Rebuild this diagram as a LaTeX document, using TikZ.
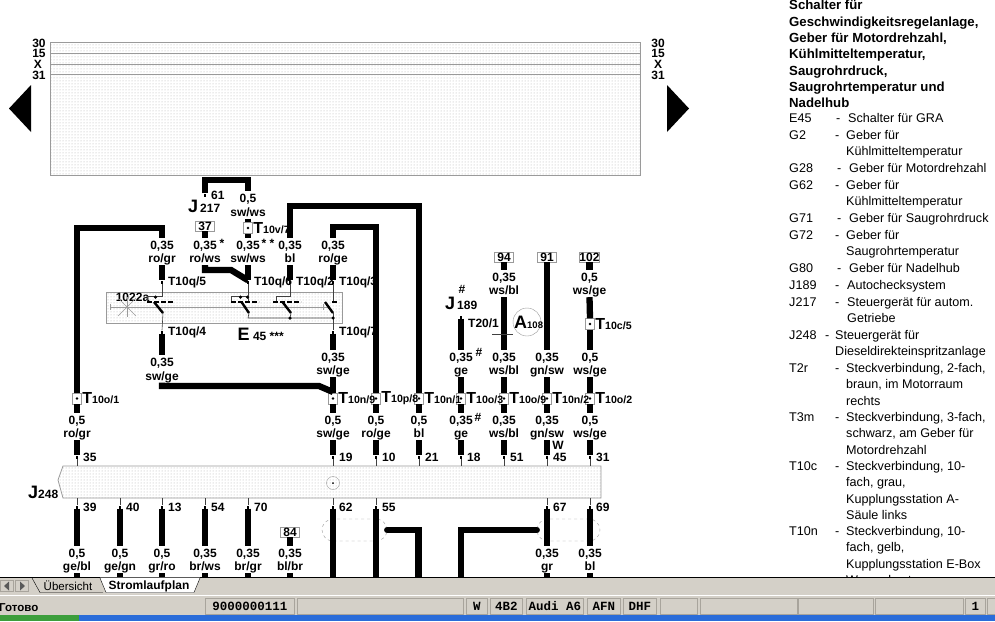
\documentclass[tikz,border=0pt]{standalone}
\usepackage{fontspec}
\setmainfont{Liberation Sans}
\newfontfamily\statusfont{Liberation Mono}
\usepackage{tikz}
\usetikzlibrary{shapes, arrows, patterns.meta}
\definecolor{railgray}{HTML}{9A9A9A}
\definecolor{dotgray}{HTML}{B0B0B0}
\definecolor{uigray}{HTML}{D4D0C8}
\definecolor{uiedge}{HTML}{A8A49C}
\definecolor{xpblue}{HTML}{2A6CD9}
\definecolor{xpgreen}{HTML}{3C9E3C}
\newcommand{\wirefont}{\bfseries\fontsize{12}{13.5}\selectfont}
\newcommand{\bigT}{{\fontsize{16}{16}\selectfont T}}
\newcommand{\bigL}[1]{{\fontsize{18}{18}\selectfont #1}}
\newcommand{\wl}[2]{\raisebox{-4.6pt}[0pt][0pt]{#1}\\\raisebox{-4.6pt}[0pt][0pt]{#2}}
\tikzset
  {
    wire/.style        = {line width=6.3pt},
    thinwire/.style    = {line width=0.6pt, draw=black!75},
    railline/.style    = {line width=0.8pt, draw=railgray},
    panel/.style       = {draw=railgray, line width=0.8pt, pattern={Dots[distance=3pt, radius=0.5pt]}, pattern color=dotgray},
    wirelabel/.style   = {font=\wirefont, align=center, inner sep=0pt, minimum height=27pt, minimum width=30pt},
    plain/.style       = {font=\wirefont, inner sep=0pt},
    conbox/.style      = {rectangle, draw=railgray, fill=white, minimum width=9pt, minimum height=11pt, inner sep=0pt,
                          path picture={\fill[black] (path picture bounding box.center) circle (1.3);}},
    refbox/.style      = {rectangle, draw=railgray, fill=white, font=\wirefont, minimum width=19pt, minimum height=10pt, inner sep=0pt},
    contactpin/.style  = {rectangle, fill=black, minimum width=2.5pt, minimum height=3pt, inner sep=0pt},
    tlabel/.style      = {font=\bfseries\fontsize{10.6}{13}\selectfont, inner sep=0pt, label distance=0.5pt},
    pinlabel/.style    = {font=\wirefont, inner sep=0pt, label distance=4.5pt},
    contact/.style     = {line width=2.2pt, dash pattern=on 5pt off 2pt},
    blade/.style       = {line width=2.4pt},
    sdot/.style        = {circle, fill=black, minimum size=3.5pt, inner sep=0pt},
    ovalbox/.style     = {draw=railgray, dashed, rounded corners=11pt, minimum height=22pt, inner sep=0pt},
    legend/.style      = {anchor=north west, inner sep=0pt, align=left, font=\fontsize{12.6}{16.35}\selectfont, execute at begin node=\strut},
    uifield/.style     = {draw=uiedge, line width=0.8pt, anchor=north west, minimum height=16pt, inner sep=0pt, font=\statusfont\bfseries\fontsize{12.5}{13}\selectfont},
  }
\begin{document}
\begin{tikzpicture}[x=1pt, y=-1pt]
    \useasboundingbox[fill=white] (0,0) rectangle (995,621);

    \node[panel, anchor=north west, minimum width=590pt, minimum height=133pt] (toppanel) at (50,42) {};
    \node[plain] (l30) at (39,43) {30};
    \node[plain] (l15) at (39,53.5) {15};
    \node[plain] (lx) at (38,64) {X};
    \node[plain] (l31) at (39,75) {31};
    \node[plain] (r30) at (658,43) {30};
    \node[plain] (r15) at (658,53.5) {15};
    \node[plain] (rx) at (658,64) {X};
    \node[plain] (r31) at (658,75) {31};
    \draw[railline] (toppanel.west |- l15) -- (toppanel.east |- r15);
    \draw[railline] (toppanel.west |- lx) -- (toppanel.east |- rx);
    \draw[railline] (50,74) -- (640,74);
    \fill (9,108.5) -- (31,85) -- (31,132) -- cycle;
    \fill (689,108.5) -- (667,85) -- (667,132) -- cycle;

    \node[panel, minimum width=236pt, minimum height=31pt, anchor=north west] (E45box) at (106,292) {};
    \node[plain] (sw1022a) at (132.5,297) {1022a};
    \draw[railline] (110,307) -- (330,307);
    \draw[railline] (110,304) -- (110,310);
    \draw[railline] (323,304) -- (323,310);
    \draw[thinwire, draw=railgray] (118,298) -- (136,316);
    \draw[thinwire, draw=railgray] (136,298) -- (118,316);
    \draw[thinwire, draw=railgray] (127,297) -- (127,317);
    \draw[thinwire, draw=railgray] (115,307) -- (139,307);

    \node[refbox] (r37) at (205,226) {37};
    \node[refbox] (r94) at (504,257) {94};
    \node[refbox] (r91) at (547,257) {91};
    \node[refbox] (r102) at (589.5,257) {102};
    \node[refbox] (r84) at (290,532) {84};

    \node[conbox, label={[tlabel]right:\bigT 10v/7}] (T10v7) at (248,228) {};
    \node[conbox, label={[tlabel]right:\bigT 10o/1}] (T10o1) at (77,398.5) {};
    \node[conbox, label={[tlabel]right:\bigT 10o/2}] (T10o2) at (590,398.5) {};
    \node[conbox, label={[tlabel]right:\bigT 10n/2}] (T10n2) at (547,398.5) {};
    \node[conbox, label={[tlabel]right:\bigT 10o/9}] (T10o9) at (504,398.5) {};
    \node[conbox, label={[tlabel]right:\bigT 10o/3}] (T10o3) at (461,398.5) {};
    \node[conbox, label={[tlabel]right:\bigT 10n/1}] (T10n1) at (419,398.5) {};
    \node[conbox, label={[tlabel]right:\bigT 10p/8}] (T10p8) at (376,398.5) {};
    \node[conbox, label={[tlabel]right:\bigT 10n/9}] (T10n9) at (333,398.5) {};
    \node[conbox, label={[tlabel]right:\bigT 10c/5}] (T10c5) at (590,324) {};

    \node[contactpin, label={[pinlabel]right:61}] (p61) at (205,195) {};
    \node[contactpin, label={[pinlabel]right:T10q/5}] (pq5) at (162,282) {};
    \node[contactpin, label={[pinlabel]right:T10q/6}] (pq6) at (248,282) {};
    \node[contactpin, label={[pinlabel]right:T10q/2}] (pq2) at (290,282) {};
    \node[contactpin, label={[pinlabel]right:T10q/3}] (pq3) at (333,282) {};
    \node[contactpin, label={[pinlabel]right:T10q/4}] (pq4) at (162,332) {};
    \node[contactpin, label={[pinlabel]right:T10q/7}] (pq7) at (333,332) {};
    \node[contactpin] (p189) at (461,317) {};
    \node[plain, anchor=west] (T201) at (468,323) {T20/1};

    \node[wirelabel] (lswwsA) at (248,205) {\wl{0,5}{sw/ws}};
    \node[wirelabel] (lrogrA) at (162,251.5) {\wl{0,35}{ro/gr}};
    \node[wirelabel] (lrowsA) at (205,251.5) {\wl{0,35}{ro/ws}};
    \node[wirelabel] (lswwsB) at (248,251.5) {\wl{0,35}{sw/ws}};
    \node[wirelabel] (lblA) at (290,251.5) {\wl{0,35}{bl}};
    \node[wirelabel] (lrogeA) at (333,251.5) {\wl{0,35}{ro/ge}};
    \node[wirelabel] (lwsblA) at (504,283.5) {\wl{0,35}{ws/bl}};
    \node[wirelabel] (lwsgeA) at (589.5,283.5) {\wl{0,5}{ws/ge}};
    \node[wirelabel] (lswgeL) at (162,369) {\wl{0,35}{sw/ge}};
    \node[wirelabel] (lswgeR) at (333,363.5) {\wl{0,35}{sw/ge}};
    \node[wirelabel] (lgeA) at (461,363.5) {\wl{0,35}{ge}};
    \node[wirelabel] (lwsblB) at (504,363.5) {\wl{0,35}{ws/bl}};
    \node[wirelabel] (lgnswA) at (547,363.5) {\wl{0,35}{gn/sw}};
    \node[wirelabel] (lwsgeB) at (590,363.5) {\wl{0,5}{ws/ge}};
    \node[wirelabel] (lrogrB) at (77,426.5) {\wl{0,5}{ro/gr}};
    \node[wirelabel] (lswgeB) at (333,426.5) {\wl{0,5}{sw/ge}};
    \node[wirelabel] (lrogeB) at (376,426.5) {\wl{0,5}{ro/ge}};
    \node[wirelabel] (lblB) at (419,426.5) {\wl{0,5}{bl}};
    \node[wirelabel] (lgeB) at (461,426.5) {\wl{0,35}{ge}};
    \node[wirelabel] (lwsblC) at (504,426.5) {\wl{0,35}{ws/bl}};
    \node[wirelabel] (lgnswB) at (547,426.5) {\wl{0,35}{gn/sw}};
    \node[wirelabel] (lwsgeC) at (590,426.5) {\wl{0,5}{ws/ge}};
    \node[wirelabel] (lgebl) at (77,559.5) {\wl{0,5}{ge/bl}};
    \node[wirelabel] (lgegn) at (120,559.5) {\wl{0,5}{ge/gn}};
    \node[wirelabel] (lgrro) at (162,559.5) {\wl{0,5}{gr/ro}};
    \node[wirelabel] (lbrws) at (205,559.5) {\wl{0,35}{br/ws}};
    \node[wirelabel] (lbrgr) at (248,559.5) {\wl{0,35}{br/gr}};
    \node[wirelabel] (lblbr) at (290,559.5) {\wl{0,35}{bl/br}};
    \node[wirelabel] (lgr) at (547,559.5) {\wl{0,35}{gr}};
    \node[wirelabel] (lblC) at (590,559.5) {\wl{0,35}{bl}};

    \draw[panel] (63,466) -- (601,466) -- (601,498) -- (63,498) -- (58,480) -- cycle;
    \node[minimum width=538pt, minimum height=32pt, inner sep=0pt, anchor=north west] (J248box) at (63,466) {};
    \node[circle, draw=railgray, minimum size=13pt, inner sep=0pt] (mark) at (333,483) {};
    \node[sdot, minimum size=2pt] (markdot) at (333,483) {};

    \node[contactpin, label={[pinlabel]right:35}] (p35) at (77,457) {};
    \node[contactpin, label={[pinlabel]right:19}] (p19) at (333,457) {};
    \node[contactpin, label={[pinlabel]right:10}] (p10) at (376,457) {};
    \node[contactpin, label={[pinlabel]right:21}] (p21) at (419,457) {};
    \node[contactpin, label={[pinlabel]right:18}] (p18) at (461,457) {};
    \node[contactpin, label={[pinlabel]right:51}] (p51) at (504,457) {};
    \node[contactpin, label={[pinlabel]right:45}] (p45) at (547,457) {};
    \node[contactpin, label={[pinlabel]right:31}] (p31) at (590,457) {};
    \node[contactpin, label={[pinlabel]right:39}] (p39) at (77,507) {};
    \node[contactpin, label={[pinlabel]right:40}] (p40) at (120,507) {};
    \node[contactpin, label={[pinlabel]right:13}] (p13) at (162,507) {};
    \node[contactpin, label={[pinlabel]right:54}] (p54) at (205,507) {};
    \node[contactpin, label={[pinlabel]right:70}] (p70) at (248,507) {};
    \node[contactpin, label={[pinlabel]right:62}] (p62) at (333,507) {};
    \node[contactpin, label={[pinlabel]right:55}] (p55) at (376,507) {};
    \node[contactpin, label={[pinlabel]right:67}] (p67) at (547,507) {};
    \node[contactpin, label={[pinlabel]right:69}] (p69) at (590,507) {};

    \node[ovalbox, minimum width=65pt] (ovalL) at (354.5,530) {};
    \node[ovalbox, minimum width=63pt] (ovalR) at (568.5,530) {};

    \coordinate (c1) at (77,228);
    \coordinate (c2) at (205,180);
    \coordinate (c3) at (205,270);
    \coordinate (c4) at (231,270);
    \coordinate (c5) at (290,206);
    \coordinate (c6) at (333,227);
    \coordinate (c7) at (162,386);
    \coordinate (c8) at (319,386);
    \coordinate (c9) at (333,392);
    \coordinate (b39) at (77,582);
    \coordinate (b40) at (120,582);
    \coordinate (b13) at (162,582);
    \coordinate (b54) at (205,582);
    \coordinate (b70) at (248,582);
    \coordinate (b84) at (290,582);
    \coordinate (b62) at (333,582);
    \coordinate (b55) at (376,582);
    \coordinate (b21) at (418.5,582);
    \coordinate (b18) at (461,582);
    \coordinate (b67) at (547,582);
    \coordinate (b69) at (590,582);

    \draw[wire] (p61.north) -- (c2) -| (lswwsA.north);
    \draw[wire] (lswwsA.south) -- (T10v7.north);
    \draw[wire] (T10v7.south) -- (lswwsB.north);
    \draw[wire] (r37.south) -- (lrowsA.north);
    \draw[wire] (lrowsA.south) -- (c3) -- (c4) -- (pq6.north);
    \draw[wire] (lswwsB.south) -- (pq6.north);
    \draw[wire] (T10o1.north) -- (c1) -| (lrogrA.north);
    \draw[wire] (lrogrA.south) -- (pq5.north);
    \draw[wire] (lblA.north) -- (c5) -| (T10n1.north);
    \draw[wire] (lblA.south) -- (pq2.north);
    \draw[wire] (lrogeA.north) -- (c6) -| (T10p8.north);
    \draw[wire] (lrogeA.south) -- (pq3.north);
    \draw[wire] (pq4.south) -- (lswgeL.north);
    \draw[wire] (lswgeL.south) -- (c7) -- (c8) -- (c9);
    \draw[wire] (pq7.south) -- (lswgeR.north);
    \draw[wire] (lswgeR.south) -- (T10n9.north);
    \draw[wire] (p189.south) -- (lgeA.north);
    \draw[wire] (lgeA.south) -- (T10o3.north);
    \draw[wire] (r94.south) -- (lwsblA.north);
    \draw[wire] (lwsblA.south) -- (lwsblB.north);
    \draw[wire] (lwsblB.south) -- (T10o9.north);
    \draw[wire] (r91.south) -- (lgnswA.north);
    \draw[wire] (lgnswA.south) -- (T10n2.north);
    \draw[wire] (r102.south) -- (lwsgeA.north);
    \draw[wire] (lwsgeA.south) -- (T10c5.north);
    \draw[wire] (T10c5.south) -- (lwsgeB.north);
    \draw[wire] (lwsgeB.south) -- (T10o2.north);
    \draw[wire] (T10o1.south) -- (lrogrB.north);
    \draw[wire] (T10n9.south) -- (lswgeB.north);
    \draw[wire] (T10p8.south) -- (lrogeB.north);
    \draw[wire] (T10n1.south) -- (lblB.north);
    \draw[wire] (T10o3.south) -- (lgeB.north);
    \draw[wire] (T10o9.south) -- (lwsblC.north);
    \draw[wire] (T10n2.south) -- (lgnswB.north);
    \draw[wire] (T10o2.south) -- (lwsgeC.north);
    \draw[wire] (lrogrB.south) -- (p35.north);
    \draw[wire] (lswgeB.south) -- (p19.north);
    \draw[wire] (lrogeB.south) -- (p10.north);
    \draw[wire] (lblB.south) -- (p21.north);
    \draw[wire] (lgeB.south) -- (p18.north);
    \draw[wire] (lwsblC.south) -- (p51.north);
    \draw[wire] (lgnswB.south) -- (p45.north);
    \draw[wire] (lwsgeC.south) -- (p31.north);
    \draw[wire] (p39.south) -- (lgebl.north);
    \draw[wire] (p40.south) -- (lgegn.north);
    \draw[wire] (p13.south) -- (lgrro.north);
    \draw[wire] (p54.south) -- (lbrws.north);
    \draw[wire] (p70.south) -- (lbrgr.north);
    \draw[wire] (r84.south) -- (lblbr.north);
    \draw[wire] (p67.south) -- (lgr.north);
    \draw[wire] (p69.south) -- (lblC.north);
    \draw[wire] (lgebl.south) -- (b39);
    \draw[wire] (lgegn.south) -- (b40);
    \draw[wire] (lgrro.south) -- (b13);
    \draw[wire] (lbrws.south) -- (b54);
    \draw[wire] (lbrgr.south) -- (b70);
    \draw[wire] (lblbr.south) -- (b84);
    \draw[wire] (lgr.south) -- (b67);
    \draw[wire] (lblC.south) -- (b69);
    \draw[wire] (p62.south) -- (b62);
    \draw[wire] (p55.south) -- (b55);
    \draw[wire, line cap=round] (ovalL.east) -| (b21);
    \draw[wire, line cap=round] (ovalR.west) -| (b18);

    \draw[thinwire] (p35.south) -- (p35.south |- J248box.north);
    \draw[thinwire] (p19.south) -- (p19.south |- J248box.north);
    \draw[thinwire] (p10.south) -- (p10.south |- J248box.north);
    \draw[thinwire] (p21.south) -- (p21.south |- J248box.north);
    \draw[thinwire] (p18.south) -- (p18.south |- J248box.north);
    \draw[thinwire] (p51.south) -- (p51.south |- J248box.north);
    \draw[thinwire] (p45.south) -- (p45.south |- J248box.north);
    \draw[thinwire] (p31.south) -- (p31.south |- J248box.north);
    \draw[thinwire] (p39.north) -- (p39.north |- J248box.south);
    \draw[thinwire] (p40.north) -- (p40.north |- J248box.south);
    \draw[thinwire] (p13.north) -- (p13.north |- J248box.south);
    \draw[thinwire] (p54.north) -- (p54.north |- J248box.south);
    \draw[thinwire] (p70.north) -- (p70.north |- J248box.south);
    \draw[thinwire] (p62.north) -- (p62.north |- J248box.south);
    \draw[thinwire] (p55.north) -- (p55.north |- J248box.south);
    \draw[thinwire] (p67.north) -- (p67.north |- J248box.south);
    \draw[thinwire] (p69.north) -- (p69.north |- J248box.south);

    \draw[thinwire] (pq5.south) -- (162,296.5) -- (147.5,296.5) -- (147.5,302);
    \draw[thinwire] (pq6.south) -- (248,302);
    \draw[thinwire] (248,296.5) -- (231.5,296.5) -- (231.5,302);
    \draw[thinwire] (pq2.south) -- (290,296.5) -- (276,296.5) -- (276,302);
    \draw[thinwire] (pq3.south) -- (333,302);
    \draw[thinwire] (163,313) -- (pq4.north);
    \draw[thinwire] (249,313) -- (248,318) -- (333,318);
    \draw[thinwire] (291,313) -- (290,318);
    \draw[thinwire] (333,313) -- (pq7.north);
    \draw[contact] (147,302) -- (174,302);
    \draw[contact] (231,302) -- (259,302);
    \draw[contact] (273,302) -- (301,302);
    \draw[contact] (332,302) -- (337,302);
    \draw[blade] (154,302) -- (163,313);
    \draw[blade] (241.5,302) -- (249,313);
    \draw[blade] (282.5,302) -- (291,313);
    \draw[blade] (325,302) -- (333,313);
    \node[sdot] (d1) at (155.5,297) {};
    \node[sdot] (d2) at (240.5,297) {};
    \node[sdot] (d3) at (247.5,297) {};
    \node[sdot] (d4) at (290,318) {};
    \node[sdot] (d5) at (333,318) {};

    \node[plain, anchor=base west] (J217) at (188,212) {\bigL{J}\fontsize{12}{12}\selectfont\,217};
    \node[plain, anchor=base west] (E45) at (237.5,340) {\bigL{E}\fontsize{12}{12}\selectfont\ 45 ***};
    \node[plain, anchor=base west] (J189) at (445,309) {\bigL{J}\fontsize{12}{12}\selectfont\,189};
    \node[plain, anchor=base west] (J248) at (28,498) {\bigL{J}\fontsize{12}{12}\selectfont 248};
    \node[plain] (starA) at (222,243) {*};
    \node[plain] (starB) at (268,243) {* *};
    \node[plain] (hashA) at (462,289) {\#};
    \node[plain] (hashB) at (479,352) {\#};
    \node[plain] (hashC) at (478,417) {\#};
    \node[plain] (wmark) at (558,445) {W};
    \node[circle, draw=railgray, minimum size=28pt, inner sep=0pt] (A108circle) at (527,322) {};
    \node[plain, anchor=base west] (A108) at (514,328) {\bigL{A}\fontsize{9.5}{10}\selectfont 108};
    \draw[thinwire] (492,334) -- (513,334);

    \node[legend, font=\bfseries\fontsize{13.2}{16.35}\selectfont] (title) at (789,0) {Schalter für\\Geschwindigkeitsregelanlage,\\Geber für Motordrehzahl,\\Kühlmitteltemperatur,\\Saugrohrdruck,\\Saugrohrtemperatur und\\Nadelhub};
    \node[legend] (cE45) at (789,111) {E45};
    \node[legend] (dE45) at (836,111) {-};
    \node[legend] (tE45) at (848,111) {Schalter für GRA};
    \node[legend] (cG2) at (789,128) {G2};
    \node[legend] (dG2) at (835,128) {-};
    \node[legend] (tG2) at (846,130) {Geber für\\Kühlmitteltemperatur};
    \node[legend] (cG28) at (789,161) {G28};
    \node[legend] (dG28) at (837,161) {-};
    \node[legend] (tG28) at (849,161) {Geber für Motordrehzahl};
    \node[legend] (cG62) at (789,178) {G62};
    \node[legend] (dG62) at (835,178) {-};
    \node[legend] (tG62) at (846,180) {Geber für\\Kühlmitteltemperatur};
    \node[legend] (cG71) at (789,211) {G71};
    \node[legend] (dG71) at (837,211) {-};
    \node[legend] (tG71) at (849,211) {Geber für Saugrohrdruck};
    \node[legend] (cG72) at (789,228) {G72};
    \node[legend] (dG72) at (835,228) {-};
    \node[legend] (tG72) at (846,230) {Geber für\\Saugrohrtemperatur};
    \node[legend] (cG80) at (789,261) {G80};
    \node[legend] (dG80) at (837,261) {-};
    \node[legend] (tG80) at (849,261) {Geber für Nadelhub};
    \node[legend] (cJ189) at (789,278) {J189};
    \node[legend] (dJ189) at (835,278) {-};
    \node[legend] (tJ189) at (847,278) {Autochecksystem};
    \node[legend] (cJ217) at (789,295) {J217};
    \node[legend] (dJ217) at (835,295) {-};
    \node[legend] (tJ217) at (847,297) {Steuergerät für autom.\\Getriebe};
    \node[legend] (cJ248) at (789,328) {J248};
    \node[legend] (dJ248) at (825,328) {-};
    \node[legend] (tJ248) at (835,330) {Steuergerät für\\Dieseldirekteinspritzanlage};
    \node[legend] (cT2r) at (789,361) {T2r};
    \node[legend] (dT2r) at (835,361) {-};
    \node[legend] (tT2r) at (846,363) {Steckverbindung, 2-fach,\\braun, im Motorraum\\rechts};
    \node[legend] (cT3m) at (789,410) {T3m};
    \node[legend] (dT3m) at (835,410) {-};
    \node[legend] (tT3m) at (846,412) {Steckverbindung, 3-fach,\\schwarz, am Geber für\\Motordrehzahl};
    \node[legend] (cT10c) at (789,459) {T10c};
    \node[legend] (dT10c) at (835,459) {-};
    \node[legend] (tT10c) at (846,461) {Steckverbindung, 10-\\fach, grau,\\Kupplungsstation A-\\Säule links};
    \node[legend] (cT10n) at (789,524) {T10n};
    \node[legend] (dT10n) at (835,524) {-};
    \node[legend] (tT10n) at (846,526) {Steckverbindung, 10-\\fach, gelb,\\Kupplungsstation E-Box\\Wasserkasten};

    \fill[uigray] (0,577) rectangle (995,615);
    \fill[xpblue] (0,615) rectangle (995,621);
    \fill[xpgreen] (0,615) rectangle (79,621);
    \draw[line width=1pt] (0,577) -- (995,577);
    \draw[white, line width=1pt] (0,595.5) -- (995,595.5);

    \node[rectangle, draw=uiedge, fill=uigray, minimum width=13pt, minimum height=11pt] (tabprev) at (6.5,586) {};
    \node[rectangle, draw=uiedge, fill=uigray, minimum width=13pt, minimum height=11pt] (tabnext) at (22,586) {};
    \fill[black!65] (4,586) -- (9,581.5) -- (9,590.5) -- cycle;
    \fill[black!65] (25,586) -- (20,581.5) -- (20,590.5) -- cycle;
    \draw (32,578) -- (40,592.5) -- (103,592.5);
    \fill[white] (100,577.5) -- (106,593) -- (194,593) -- (200,577.5) -- cycle;
    \draw (100,578) -- (106,592.5) -- (194,592.5) -- (200,578);
    \node[inner sep=0pt, font=\fontsize{11.5}{12}\selectfont] (tabover) at (68,586) {Übersicht};
    \node[inner sep=0pt, font=\bfseries\fontsize{12}{12}\selectfont] (tabplan) at (149,586) {Stromlaufplan};

    \node[inner sep=0pt, anchor=west, font=\bfseries\fontsize{11.5}{12}\selectfont] (stgotovo) at (-1,608) {Готово};
    \node[uifield, minimum width=89pt] (st1) at (205,598) {9000000111};
    \node[uifield, minimum width=166pt] (st2) at (297,598) {};
    \node[uifield, minimum width=21pt] (st3) at (466,598) {W};
    \node[uifield, minimum width=32pt] (st4) at (490,598) {4B2};
    \node[uifield, minimum width=57pt] (st5) at (526,598) {Audi A6};
    \node[uifield, minimum width=33pt] (st6) at (587,598) {AFN};
    \node[uifield, minimum width=33pt] (st7) at (623,598) {DHF};
    \node[uifield, minimum width=37pt] (st8) at (660,598) {};
    \node[uifield, minimum width=97pt] (st9) at (700,598) {};
    \node[uifield, minimum width=75pt] (st10) at (798,598) {};
    \node[uifield, minimum width=88pt] (st11) at (875,598) {};
    \node[uifield, minimum width=20pt] (st12) at (965,598) {1};
    \node[uifield, minimum width=8pt] (st13) at (987,598) {};
\end{tikzpicture}
\end{document}
